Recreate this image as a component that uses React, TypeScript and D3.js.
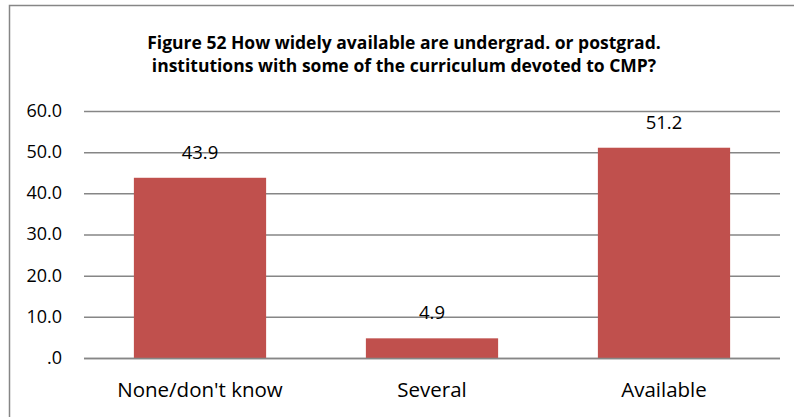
import React from "react";
import * as d3 from "d3";

const categories = ["None/don't know", "Several", "Available"];
const values = [43.9, 4.9, 51.2];
const yTicks = [0, 10, 20, 30, 40, 50, 60];
const titleLines = [
  "Figure 52 How widely available are undergrad. or postgrad.",
  "institutions with some of the curriculum devoted to CMP?",
];

const W = 794;
const H = 417;
const M = { left: 84, right: 780, top: 111.5, bottom: 358.5 };
const FONT = "'Open Sans', sans-serif";

export default function App() {
  const x = d3
    .scaleBand<string>()
    .domain(categories)
    .range([M.left, M.right])
    .paddingInner(0.43)
    .paddingOuter(0.215);
  const y = d3.scaleLinear().domain([0, 60]).range([M.bottom, M.top]);
  const fmt = (v: number) => (v === 0 ? ".0" : d3.format(".1f")(v));

  return (
    <svg
      width={W}
      height={H}
      style={{ position: "absolute", left: 0, top: 0, background: "#fff" }}
    >
      <rect x={9.5} y={5.5} width={900} height={500} fill="#fff" stroke="#868686" strokeWidth={1.5} />
      {titleLines.map((t, i) => (
        <text
          key={i}
          x={404}
          y={49 + i * 23}
          textAnchor="middle"
          fontFamily={FONT}
          fontWeight="bold"
          fontSize={17.5}
          fill="#000"
        >
          {t}
        </text>
      ))}
      {yTicks.map((t) => (
        <g key={t}>
          <line x1={M.left} x2={M.right} y1={y(t)} y2={y(t)} stroke="#868686" strokeWidth={1.5} />
          <text
            x={62}
            y={y(t)}
            dy="0.3em"
            textAnchor="end"
            fontFamily={FONT}
            fontSize={18}
            fill="#000"
          >
            {fmt(t)}
          </text>
        </g>
      ))}
      {categories.map((c, i) => (
        <g key={c}>
          <rect
            x={x(c)}
            y={y(values[i])}
            width={x.bandwidth()}
            height={y(0) - y(values[i])}
            fill="#C0504D"
          />
          <text
            x={(x(c) as number) + x.bandwidth() / 2}
            y={y(values[i]) - 19}
            textAnchor="middle"
            fontFamily={FONT}
            fontSize={18.5}
            fill="#000"
          >
            {d3.format(".1f")(values[i])}
          </text>
          <text
            x={(x(c) as number) + x.bandwidth() / 2}
            y={397}
            textAnchor="middle"
            fontFamily={FONT}
            fontSize={20.5}
            fill="#000"
          >
            {c}
          </text>
        </g>
      ))}
      <line x1={M.left} x2={M.right} y1={y(0)} y2={y(0)} stroke="#868686" strokeWidth={1.5} />
    </svg>
  );
}
